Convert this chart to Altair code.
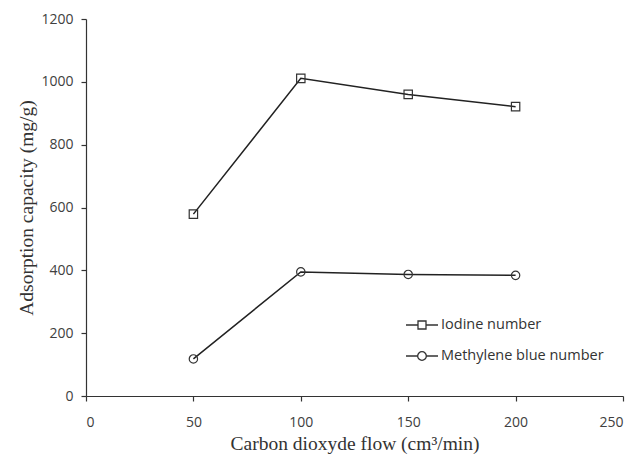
import altair as alt
import pandas as pd

flow = [50, 100, 150, 200]
iodine = [579, 1011, 960, 921]
methylene = [118, 395, 387, 384]
series_names = ["Iodine number", "Methylene blue number"]

rows = []
for x, v in zip(flow, iodine):
    rows.append({"flow": x, "value": v, "series": series_names[0]})
for x, v in zip(flow, methylene):
    rows.append({"flow": x, "value": v, "series": series_names[1]})
df = pd.DataFrame(rows)

sq_path = "M -1 0 L -0.25 0 M 0.25 0 L 1 0 M -0.25 -0.25 L 0.25 -0.25 L 0.25 0.25 L -0.25 0.25 Z"
ci_path = ("M -1 0 L -0.27 0 M 0.27 0 L 1 0 M -0.27 0 A 0.27 0.27 0 1 0 0.27 0 "
           "A 0.27 0.27 0 1 0 -0.27 0")

x_enc = alt.X("flow:Q", scale=alt.Scale(domain=[0, 250], nice=False),
              axis=alt.Axis(values=[0, 50, 100, 150, 200, 250], format="d",
                            title="Carbon dioxyde flow (cm³/min)"))
y_enc = alt.Y("value:Q", scale=alt.Scale(domain=[0, 1200], nice=False),
              axis=alt.Axis(values=[0, 200, 400, 600, 800, 1000, 1200], format="d",
                            title="Adsorption capacity (mg/g)"))

base = alt.Chart(df)

lines = base.mark_line(color="#222222", strokeWidth=1.5).encode(
    x=x_enc, y=y_enc, detail="series:N")

points = base.mark_point(filled=False, color="#333333", size=70, strokeWidth=1.2, opacity=1).encode(
    x=x_enc, y=y_enc,
    shape=alt.Shape("series:N", scale=alt.Scale(domain=series_names, range=["square", "circle"]),
                    legend=None))

legend_layer = base.mark_point(filled=False, opacity=0, size=1).encode(
    x=x_enc, y=y_enc,
    shape=alt.Shape("series:N",
                    scale=alt.Scale(domain=series_names, range=[sq_path, ci_path]),
                    legend=alt.Legend(title=None, orient="none", legendX=319, legendY=289,
                                      symbolSize=1024, symbolOpacity=1,
                                      symbolStrokeColor="#333333", symbolFillColor="transparent",
                                      symbolStrokeWidth=1.3, rowPadding=7, labelOffset=2,
                                      labelFont="Open Sans", labelFontSize=14.5,
                                      labelColor="#333333", labelLimit=300)))

chart = alt.layer(lines, points, legend_layer).resolve_scale(shape="independent").properties(
    width=537, height=377,
    autosize=alt.AutoSizeParams(type="none"),
    padding={"left": 78, "top": 11, "right": 6, "bottom": 60},
    background="white",
).configure_view(stroke=None).configure_axis(
    grid=False, domainColor="#333333", tickColor="#333333", tickSize=5,
    domainWidth=1.2, tickWidth=1.2,
    labelFont="Open Sans", labelFontSize=14, labelColor="#404040",
    titleFont="Liberation Serif", titleFontSize=19.5, titleFontWeight="normal", titleColor="#333333",
).configure_axisX(labelPadding=14, titlePadding=5).configure_axisY(labelPadding=8, titlePadding=4)

chart.save("out.html", embed_options={"renderer": "svg", "actions": False})
